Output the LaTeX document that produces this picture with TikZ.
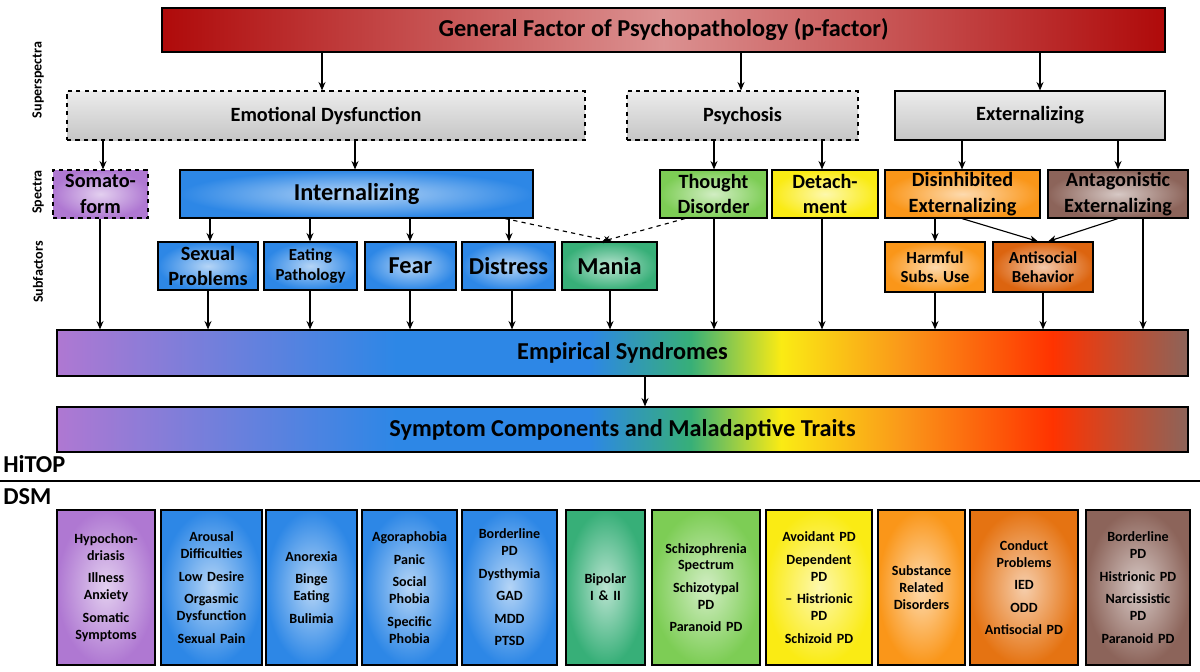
\documentclass[tikz,border=0pt]{standalone}
\usepackage{fontspec}
\setmainfont{Carlito}
\usetikzlibrary{arrows.meta}
\definecolor{cpur}{RGB}{175,120,210}
\definecolor{cblue}{RGB}{45,135,230}
\definecolor{cmania}{RGB}{55,175,120}
\definecolor{cthought}{RGB}{125,205,85}
\definecolor{cyel}{RGB}{250,235,20}
\definecolor{corg}{RGB}{250,150,25}
\definecolor{corg2}{RGB}{220,100,15}
\definecolor{cbrown}{RGB}{140,100,90}
\definecolor{cred}{RGB}{175,10,10}
\pgfdeclarehorizontalshading{rainbow}{100bp}{color(0bp)=(cpur); color(25bp)=(cpur); color(40bp)=(cblue); color(48.5bp)=(cblue); color(53bp)=(cmania); color(57bp)=(cyel); color(62.5bp)=(corg); color(69bp)=(red!60!orange); color(75bp)=(cbrown); color(100bp)=(cbrown)}
\pgfdeclarehorizontalshading{redsh}{100bp}{color(0bp)=(cred); color(25bp)=(cred); color(50bp)=(cred!45!white); color(75bp)=(cred); color(100bp)=(cred)}
\newcommand\bx[7]{\node[#6, minimum width={(#4-#2)*0.025cm}, minimum height={(#5-#3)*0.025cm}] (#1) at ({(#2+#4)/2},{(#3+#5)/2}) {#7};}
\tikzset{
 box/.style={draw=black, line width=0.8pt, inner sep=1pt, align=center, font=\bfseries},
 rad/.style={box, shading=radial, inner color=#1!35!white, outer color=#1},
 gray/.style={box, top color=gray!15, bottom color=gray!45, font=\bfseries\Large},
 arr/.style={-{Stealth[length=6pt,width=5pt]}, line width=0.8pt},
 dsm/.style={rad=#1, font=\bfseries\normalsize},
 side/.style={rotate=90, font=\bfseries\normalsize},
}
\begin{document}
\begin{tikzpicture}[x=0.025cm,y=-0.025cm]
\useasboundingbox (0,0) rectangle (1200,671);
\bx{p}{162}{8}{1165}{52}{box, shading=redsh, font=\bfseries\LARGE}{General Factor of Psychopathology (p-factor)}
\bx{ed}{67}{91}{585}{140}{gray, dashed}{Emotional Dysfunction}
\bx{psy}{627}{91}{858}{140}{gray, dashed}{Psychosis}
\bx{ext}{895}{91}{1165}{140}{gray}{Externalizing}
\bx{som}{53}{170}{148}{218}{rad=cpur, dashed, font=\bfseries\Large}{Somato-\\form}
\bx{int}{180}{170}{533}{218}{rad=cblue, font=\bfseries\LARGE}{Internalizing}
\bx{tho}{660}{170}{767}{218}{rad=cthought, font=\bfseries\Large}{Thought\\Disorder}
\bx{det}{772}{170}{878}{218}{rad=cyel, font=\bfseries\Large}{Detach-\\ment}
\bx{dis}{885}{170}{1040}{218}{rad=corg, font=\bfseries\Large}{Disinhibited\\Externalizing}
\bx{ant}{1048}{170}{1188}{218}{rad=cbrown, font=\bfseries\Large}{Antagonistic\\Externalizing}
\bx{sex}{158}{242}{258}{290}{rad=cblue, font=\bfseries\Large}{Sexual\\Problems}
\bx{eat}{264}{242}{357}{290}{rad=cblue, font=\bfseries\large}{Eating\\Pathology}
\bx{fear}{365}{242}{456}{290}{rad=cblue, font=\bfseries\LARGE}{Fear}
\bx{dist}{462}{242}{555}{290}{rad=cblue, font=\bfseries\LARGE}{Distress}
\bx{man}{562}{242}{657}{290}{rad=cmania, font=\bfseries\LARGE}{Mania}
\bx{harm}{885}{242}{985}{292}{rad=corg, font=\bfseries\large}{Harmful\\Subs. Use}
\bx{asb}{993}{242}{1093}{292}{rad=corg2, font=\bfseries\large}{Antisocial\\Behavior}
\bx{emp}{57}{330}{1188}{376}{box, shading=rainbow, font=\bfseries\LARGE}{Empirical Syndromes}
\bx{sym}{57}{407}{1188}{452}{box, shading=rainbow, font=\bfseries\LARGE}{Symptom Components and Maladaptive Traits}
\node[side] at (38,80) {Superspectra};
\node[side] at (38,192) {Spectra};
\node[side] at (38,272) {Subfactors};
\node[anchor=west, font=\bfseries\LARGE, inner sep=0] (hitop) at (3,464) {HiTOP};
\draw[line width=1.5pt] (0,481) -- (1200,481);
\node[anchor=west, font=\bfseries\LARGE, inner sep=0] (dsmt) at (3,497) {DSM};
% arrows
\draw[arr] (p.south -| 322,0) -- (ed.north -| 322,0);
\draw[arr] (p.south -| 741,0) -- (psy.north -| 741,0);
\draw[arr] (p.south -| 1040,0) -- (ext.north -| 1040,0);
\draw[arr] (ed.south -| 103,0) -- (som.north -| 103,0);
\draw[arr] (ed.south -| 355,0) -- (int.north -| 355,0);
\draw[arr] (psy.south -| 714,0) -- (tho.north -| 714,0);
\draw[arr] (psy.south -| 822,0) -- (det.north -| 822,0);
\draw[arr] (ext.south -| 962,0) -- (dis.north -| 962,0);
\draw[arr] (ext.south -| 1118,0) -- (ant.north -| 1118,0);
\foreach \n/\x in {sex/210, eat/310, fear/410, dist/509}
  \draw[arr] (int.south -| \x,0) -- (\n.north -| \x,0);
\draw[arr, dashed] (int.south -| 505,0) -- (man.north -| 612,0);
\draw[arr, dashed] (tho.south -| 685,0) -- (man.north -| 602,0);
\draw[arr] (dis.south -| 935,0) -- (harm.north -| 935,0);
\draw[arr] (dis.south -| 962,0) -- (asb.north -| 1038,0);
\draw[arr] (ant.south -| 1118,0) -- (asb.north -| 1048,0);
\foreach \n/\x in {som/100, sex/208, eat/310, fear/410, dist/512, man/610, tho/714, det/822, harm/935, asb/1043, ant/1143}
  \draw[arr] (\n.south -| \x,0) -- (emp.north -| \x,0);
\draw[arr] (emp.south -| 645,0) -- (sym.north -| 645,0);
% DSM boxes
\bx{d1}{57}{510}{155}{665}{dsm=cpur, text width=2.1cm}{Hypochon-\\driasis\\[4pt]Illness\\Anxiety\\[4pt]Somatic\\Symptoms}
\bx{d2}{161}{510}{262}{665}{dsm=cblue, text width=2.15cm}{Arousal\\Difficulties\\[4pt]Low Desire\\[4pt]Orgasmic\\Dysfunction\\[4pt]Sexual Pain}
\bx{d3}{266}{510}{357}{665}{dsm=cblue, text width=1.95cm}{Anorexia\\[4pt]Binge\\Eating\\[4pt]Bulimia\\[30pt]}
\bx{d4}{362}{510}{457}{665}{dsm=cblue, text width=2.05cm}{Agoraphobia\\[4pt]Panic\\[4pt]Social\\Phobia\\[4pt]Specific\\Phobia}
\bx{d5}{462}{510}{557}{665}{dsm=cblue, text width=2.05cm}{Borderline\\PD\\[4pt]Dysthymia\\[4pt]GAD\\[4pt]MDD\\[4pt]PTSD}
\bx{d6}{566}{510}{645}{665}{dsm=cmania, text width=1.7cm}{Bipolar\\I \& II}
\bx{d7}{652}{510}{760}{665}{dsm=cthought, text width=2.35cm}{Schizophrenia\\Spectrum\\[4pt]Schizotypal\\PD\\[4pt]Paranoid PD\\[20pt]}
\bx{d8}{766}{510}{872}{665}{dsm=cyel, text width=2.3cm}{Avoidant PD\\[4pt]Dependent\\PD\\[4pt]-- Histrionic\\PD\\[4pt]Schizoid PD}
\bx{d9}{878}{510}{965}{665}{dsm=corg, text width=1.85cm}{Substance\\Related\\Disorders}
\bx{d10}{970}{510}{1078}{665}{dsm=corg2!70!corg, text width=2.35cm}{Conduct\\Problems\\[4pt]IED\\[4pt]ODD\\[4pt]Antisocial PD}
\bx{d11}{1086}{510}{1190}{665}{dsm=cbrown, text width=2.25cm}{Borderline\\PD\\[4pt]Histrionic PD\\[4pt]Narcissistic\\PD\\[4pt]Paranoid PD}
\end{tikzpicture}
\end{document}
